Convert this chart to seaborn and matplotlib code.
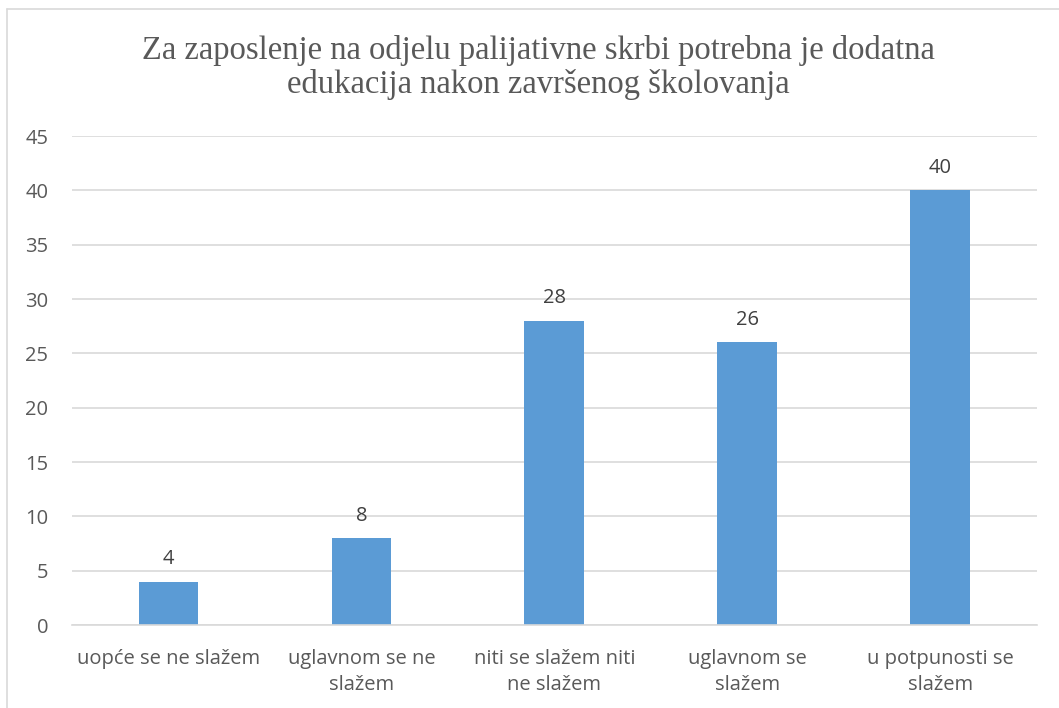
import matplotlib
matplotlib.use("Agg")
import matplotlib.pyplot as plt
import seaborn as sns
import pandas as pd
from matplotlib.lines import Line2D

# Data
categories = ["uopće se ne slažem", "uglavnom se ne\nslažem", "niti se slažem niti\nne slažem",
              "uglavnom se\nslažem", "u potpunosti se\nslažem"]
values = [4, 8, 28, 26, 40]
y_ticks = [0, 5, 10, 15, 20, 25, 30, 35, 40, 45]

title = "Za zaposlenje na odjelu palijativne skrbi potrebna je dodatna\nedukacija nakon završenog školovanja"

df = pd.DataFrame({"odgovor": categories, "broj": values})

sns.set_style("white")
plt.rcParams["font.family"] = ["Open Sans", "DejaVu Sans"]

text_col = "#595959"
fig = plt.figure(figsize=(10.59, 7.08), dpi=100)
ax = fig.add_axes([0.068, 0.1172, 0.911, 0.6907])

sns.barplot(data=df, x="odgovor", y="broj", color="#5b9bd5", width=0.31,
            saturation=1, linewidth=0, ax=ax)

for c in ax.containers:
    ax.bar_label(c, padding=9, fontsize=14.5, color="#404040")

ax.set_ylim(0, 45)
ax.set_yticks(y_ticks)
ax.yaxis.grid(True, color="#d9d9d9", linewidth=1.2)
ax.set_axisbelow(True)
for s in ["top", "right", "left"]:
    ax.spines[s].set_visible(False)
ax.spines["bottom"].set_color("#d9d9d9")
ax.spines["bottom"].set_linewidth(1.2)
ax.tick_params(axis="both", length=0, labelsize=14.5, colors=text_col)
ax.tick_params(axis="x", pad=17)
ax.tick_params(axis="y", pad=17)
for lbl in ax.get_xticklabels():
    lbl.set_linespacing(1.4)
ax.set_xlabel("")
ax.set_ylabel("")

fig.suptitle(title, x=0.508, y=0.95, fontsize=23.5, color=text_col,
             family="Liberation Serif", linespacing=1.12)

# chart border (top and left visible)
fig.add_artist(Line2D([7 / 1059, 1.0], [1 - 9 / 708, 1 - 9 / 708], color="#d9d9d9", lw=1.2))
fig.add_artist(Line2D([7 / 1059, 7 / 1059], [0, 1 - 9 / 708], color="#d9d9d9", lw=1.2))

fig.savefig("out.png", dpi=100)
